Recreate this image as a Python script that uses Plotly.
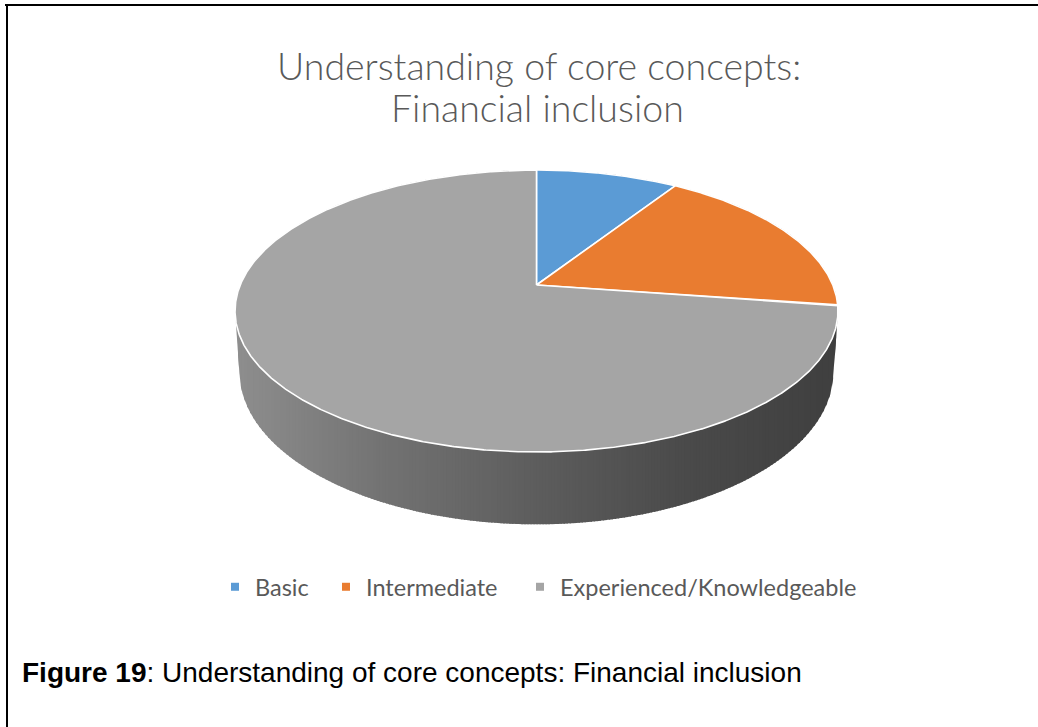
import numpy as np
import plotly.graph_objects as go

# ---- data -----------------------------------------------------------------
categories = ["Basic", "Intermediate", "Experienced/Knowledgeable"]
respondents = [1, 2, 8]
slice_colors = ["#5B9BD5", "#E97C30", "#A5A5A5"]

title_lines = ["Understanding of core concepts:", "Financial inclusion"]
caption_bold = "Figure 19"
caption_rest = ": Understanding of core concepts: Financial inclusion"

# ---- page / projection settings (pixel space) -----------------------------
W, H = 1038, 727
CX, CY = 536.5, 285.0      # projected centre of the pie's top face
A, B = 136.2, 296.3        # vertical / horizontal projection scale
U = 0.1844                 # perspective strength (front of disc is nearer)
DEPTH = 59.0               # disc thickness
BOTTOM_SHRINK = 0.985      # slight convergence of the side walls
SIDE_STOPS = [(0.0, 142), (0.25, 114), (0.5, 93), (0.75, 74), (1.0, 63)]


def project(theta, drop=0.0, shrink=1.0):
    """Angle (clockwise from 12 o'clock) on the disc rim -> screen pixels."""
    w = 1.0 + U * np.cos(theta)
    x = CX + shrink * B * np.sin(theta) / w
    y = CY - A * np.cos(theta) / w + drop / w
    return x, y


def convex_hull(points):
    pts = sorted(set(points))

    def cross(o, a, b):
        return (a[0] - o[0]) * (b[1] - o[1]) - (a[1] - o[1]) * (b[0] - o[0])

    lower, upper = [], []
    for p in pts:
        while len(lower) >= 2 and cross(lower[-2], lower[-1], p) <= 0:
            lower.pop()
        lower.append(p)
    for p in reversed(pts):
        while len(upper) >= 2 and cross(upper[-2], upper[-1], p) <= 0:
            upper.pop()
        upper.append(p)
    return lower, upper[::-1]


def side_grey(f):
    fs = [s[0] for s in SIDE_STOPS]
    vs = [s[1] for s in SIDE_STOPS]
    v = int(round(np.interp(f, fs, vs)))
    return f"rgb({v},{v},{v})"


fig = go.Figure()

# ---- side wall of the disc (shaded in vertical strips) --------------------
t = np.linspace(0, 2 * np.pi, 1441)
tx, ty = project(t)
bx, by = project(t, drop=DEPTH, shrink=BOTTOM_SHRINK)
pts = [(round(float(a), 3), round(float(b), 3)) for a, b in zip(np.r_[tx, bx], np.r_[ty, by])]
chain_a, chain_b = convex_hull(pts)
ax_, ay_ = np.array(chain_a).T
bx_, by_ = np.array(chain_b).T
xmin, xmax = ax_.min(), ax_.max()

n_strips = 200
edges = np.linspace(xmin, xmax, n_strips + 1)
for i in range(n_strips):
    x0, x1 = edges[i], min(edges[i + 1] + 1.2, xmax)
    xs = np.linspace(x0, x1, 4)
    ya = np.interp(xs, ax_, ay_)
    yb = np.interp(xs, bx_, by_)
    lo, hi = np.maximum(ya, yb), np.minimum(ya, yb)
    col = side_grey((0.5 * (edges[i] + edges[i + 1]) - xmin) / (xmax - xmin))
    fig.add_trace(go.Scatter(
        x=np.r_[xs, xs[::-1]], y=np.r_[hi, lo[::-1]],
        mode="lines", fill="toself", fillcolor=col,
        line=dict(color=col, width=0),
        hoverinfo="skip", showlegend=False))

# ---- top face slices ------------------------------------------------------
total = float(sum(respondents))
start = 0.0
for name, val, col in zip(categories, respondents, slice_colors):
    sweep = 2 * np.pi * val / total
    th = np.linspace(start, start + sweep, max(int(sweep / 0.005), 8))
    sx, sy = project(th)
    fig.add_trace(go.Scatter(
        x=np.r_[CX, sx, CX], y=np.r_[CY, sy, CY],
        mode="lines", fill="toself", fillcolor=col,
        line=dict(color="white", width=1.6),
        name=name, hoverinfo="name", showlegend=False))
    start += sweep

# ---- legend (one entry per legend box) -----------------------------------
legend_ids = ["legend", "legend2", "legend3"]
legend_x = [215, 326, 520]
for name, col, lid in zip(categories, slice_colors, legend_ids):
    fig.add_trace(go.Scatter(
        x=[None], y=[None], mode="markers", name=name,
        marker=dict(symbol="square", size=8, color=col),
        legend=lid, showlegend=True))

legend_style = dict(
    orientation="h", yanchor="middle", xanchor="left",
    bgcolor="rgba(0,0,0,0)", borderwidth=0,
    font=dict(family="Lato", size=23.5, color="#595959"),
)
layout_legends = {}
for lid, lx in zip(legend_ids, legend_x):
    layout_legends[lid] = dict(legend_style, x=lx / W, y=1 - 587 / H)

# ---- titles and caption --------------------------------------------------
annotations = [
    dict(text=title_lines[0], x=539 / W, y=1 - 65 / H),
    dict(text=title_lines[1], x=537 / W, y=1 - 108 / H),
]
for a in annotations:
    a.update(xref="paper", yref="paper", showarrow=False,
             xanchor="center", yanchor="middle",
             font=dict(family="Lato", size=37.5, color="#595959", weight=300))
annotations.append(dict(
    text=f"<b>{caption_bold}</b>{caption_rest}",
    xref="paper", yref="paper", x=20 / W, y=1 - 672 / H,
    xanchor="left", yanchor="middle", showarrow=False,
    font=dict(family="Liberation Sans", size=28, color="#000000")))

# ---- frame lines along the top and left edges ----------------------------
shapes = [
    dict(type="line", xref="paper", yref="paper", x0=5 / W, x1=1, y0=1 - 5 / H, y1=1 - 5 / H,
         line=dict(color="black", width=2)),
    dict(type="line", xref="paper", yref="paper", x0=7 / W, x1=7 / W, y0=0, y1=1 - 4 / H,
         line=dict(color="black", width=2)),
]

fig.update_layout(
    width=W, height=H,
    margin=dict(l=0, r=0, t=0, b=0),
    paper_bgcolor="white", plot_bgcolor="white",
    xaxis=dict(range=[0, W], visible=False, fixedrange=True),
    yaxis=dict(range=[H, 0], visible=False, fixedrange=True),
    annotations=annotations, shapes=shapes,
    **layout_legends,
)

fig.write_html("out.html")
